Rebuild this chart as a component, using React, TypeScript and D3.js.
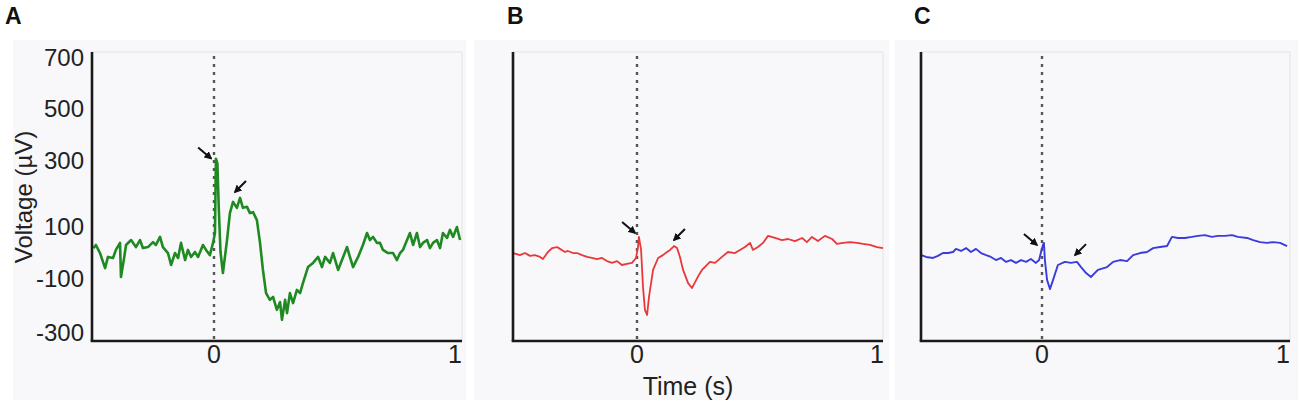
import React from 'react';
import * as d3 from 'd3';

// ---- data (time in s, voltage in µV) ----
const tA = [-0.5,-0.49,-0.473,-0.452,-0.44,-0.419,-0.407,-0.39,-0.386,-0.373,-0.365,-0.344,-0.324,-0.307,-0.295,-0.274,-0.253,-0.241,-0.224,-0.212,-0.191,-0.178,-0.162,-0.149,-0.137,-0.12,-0.108,-0.095,-0.079,-0.066,-0.046,-0.033,-0.017,-0.004,0.004,0.008,0.014,0.02,0.027,0.037,0.054,0.066,0.079,0.095,0.108,0.12,0.137,0.149,0.162,0.178,0.191,0.203,0.216,0.232,0.245,0.261,0.274,0.282,0.295,0.303,0.315,0.328,0.344,0.357,0.369,0.39,0.411,0.432,0.448,0.461,0.481,0.494,0.515,0.531,0.552,0.564,0.577,0.598,0.618,0.635,0.647,0.66,0.676,0.689,0.701,0.722,0.743,0.759,0.772,0.784,0.801,0.813,0.826,0.842,0.855,0.867,0.884,0.896,0.909,0.925,0.938,0.95,0.967,0.979,0.992,1.008,1.021];
const vA = [15,27,-4,-62,-19,-23,8,35,-96,-23,27,46,19,46,15,19,38,27,58,19,-4,-50,-4,-23,35,-31,8,-19,0,-19,27,8,-12,35,73,305,290,150,0,-81,46,139,173,155,185,155,158,139,142,118,35,-69,-156,-181,-170,-218,-189,-255,-181,-230,-156,-193,-144,-156,-119,-58,-42,-19,-58,-19,-42,-4,-69,-31,19,-19,-58,-19,27,73,46,58,35,35,8,-4,-4,-31,-4,8,46,73,27,73,19,35,46,15,35,46,15,73,54,85,58,96,46];

const tB = [-0.515,-0.488,-0.467,-0.446,-0.425,-0.404,-0.392,-0.371,-0.354,-0.333,-0.321,-0.3,-0.288,-0.267,-0.25,-0.229,-0.208,-0.188,-0.167,-0.146,-0.125,-0.104,-0.083,-0.063,-0.042,-0.021,-0.004,0.004,0.008,0.017,0.025,0.033,0.042,0.05,0.067,0.088,0.108,0.125,0.138,0.154,0.167,0.179,0.192,0.213,0.229,0.242,0.258,0.271,0.304,0.325,0.354,0.379,0.408,0.429,0.45,0.471,0.483,0.504,0.525,0.546,0.575,0.604,0.629,0.658,0.688,0.708,0.729,0.754,0.783,0.813,0.833,0.858,0.888,0.917,0.942,0.971,1.0,1.025];
const vB = [-4,-12,-4,-15,-12,-19,-27,0,15,19,12,0,4,-4,-4,-12,-19,-23,-27,-23,-35,-42,-35,-50,-46,-42,-23,19,58,8,-133,-218,-237,-170,-69,-23,-12,0,8,23,15,-19,-69,-119,-137,-115,-88,-69,-38,-42,-19,0,-4,8,19,35,8,19,35,62,54,46,50,42,54,38,58,42,62,50,31,35,38,35,31,27,19,15];

const tC = [-0.5,-0.481,-0.452,-0.432,-0.411,-0.39,-0.369,-0.357,-0.336,-0.315,-0.295,-0.274,-0.253,-0.232,-0.212,-0.191,-0.17,-0.149,-0.129,-0.108,-0.087,-0.066,-0.046,-0.025,-0.012,-0.004,0.004,0.008,0.012,0.021,0.033,0.046,0.066,0.095,0.12,0.145,0.162,0.183,0.203,0.232,0.27,0.295,0.324,0.353,0.378,0.407,0.436,0.461,0.49,0.519,0.539,0.564,0.593,0.622,0.647,0.676,0.705,0.73,0.759,0.788,0.813,0.851,0.876,0.905,0.934,0.959,0.988,1.017];
const vC = [-12,-19,-23,-15,-4,-4,0,12,4,15,0,12,-4,-12,-19,-31,-23,-38,-31,-42,-31,-38,-27,-42,-31,0,27,35,-31,-107,-141,-107,-50,-38,-42,-38,-58,-81,-96,-69,-58,-38,-31,-35,-12,-4,0,15,19,23,58,54,54,58,62,65,58,62,62,65,58,54,46,38,35,38,35,23];

const yTicks = [-300, -100, 100, 300, 500, 700];
const xTicks = [0, 1];
const panelLetters = ['A', 'B', 'C'];
const yLabel = 'Voltage (µV)';
const xLabel = 'Time (s)';

// arrow tips in data coords
const arrowsA = [{ t: -0.012, v: 306, dir: 'se' }, { t: 0.087, v: 203, dir: 'sw' }];
const arrowsB = [{ t: -0.008, v: 73, dir: 'se' }, { t: 0.154, v: 46, dir: 'sw' }];
const arrowsC = [{ t: -0.021, v: 27, dir: 'se' }, { t: 0.137, v: -12, dir: 'sw' }];

// ---- layout ----
const W = 1300, H = 408;
const TOP = 52, BOTTOM = 341;
const yScale = d3.scaleLinear().domain(yTicks).range([332, 278, 226, 160, 108, 57]);

const panels = [
  { letter: panelLetters[0], lx: 5, bg: [13, 40, 466, 400], left: 92, right: 462, x0: 214, x1: 455, t: tA, v: vA, color: '#1f8a22', width: 2.6, arrows: arrowsA, yAxis: true, xTitle: false },
  { letter: panelLetters[1], lx: 507, bg: [474, 40, 889, 400], left: 513, right: 883, x0: 637, x1: 877, t: tB, v: vB, color: '#e8383a', width: 1.8, arrows: arrowsB, yAxis: false, xTitle: true },
  { letter: panelLetters[2], lx: 914, bg: [895, 40, 1298, 400], left: 921, right: 1290, x0: 1042, x1: 1283, t: tC, v: vC, color: '#3b3bdc', width: 1.9, arrows: arrowsC, yAxis: false, xTitle: false },
];

const font = 'Liberation Sans, Arial, Helvetica, sans-serif';

function Panel({ p }: { p: any }) {
  const x = d3.scaleLinear().domain([0, 1]).range([p.x0, p.x1]);
  const pts: [number, number][] = p.t.map((t: number, i: number) => [t, p.v[i]]);
  const line = d3.line<[number, number]>().x(d => x(d[0])).y(d => yScale(d[1]));
  return (
    <g>
      <rect x={p.bg[0]} y={p.bg[1]} width={p.bg[2] - p.bg[0]} height={p.bg[3] - p.bg[1]} fill="#f8f8fa" />
      <text x={p.lx} y={24} fontFamily={font} fontWeight="bold" fontSize={23} fill="#111">{p.letter}</text>
      <line x1={p.left} x2={p.right} y1={TOP} y2={TOP} stroke="#e3e3e6" strokeWidth={1} />
      <line x1={p.right} x2={p.right} y1={TOP} y2={BOTTOM} stroke="#e3e3e6" strokeWidth={1} />
      <line x1={x(0)} x2={x(0)} y1={TOP + 4} y2={BOTTOM} stroke="#555" strokeWidth={2.4} strokeDasharray="3,5" />
      <path d={line(pts) || ''} fill="none" stroke={p.color} strokeWidth={p.width} strokeLinejoin="round" />
      {p.arrows.map((a: any, i: number) => {
        const tx = x(a.t), ty = yScale(a.v);
        const sx = a.dir === 'se' ? tx - 13 : tx + 11;
        const sy = ty - 11;
        return <line key={i} x1={sx} y1={sy} x2={tx} y2={ty} stroke="#111" strokeWidth={2} markerEnd="url(#arr)" />;
      })}
      <line x1={p.left} x2={p.left} y1={TOP} y2={BOTTOM} stroke="#1a1a1a" strokeWidth={2.6} />
      <line x1={p.left - 1.3} x2={p.right} y1={BOTTOM} y2={BOTTOM} stroke="#1a1a1a" strokeWidth={2.6} />
      {xTicks.map(t => (
        <text key={t} x={x(t)} y={363} textAnchor="middle" fontFamily={font} fontSize={25} fill="#222">{t}</text>
      ))}
      {p.yAxis && yTicks.map(v => (
        <text key={v} x={p.left - 8} y={yScale(v)} dy="0.36em" textAnchor="end" fontFamily={font} fontSize={24} fill="#222">{v}</text>
      ))}
      {p.yAxis && (
        <text transform={`translate(32,197) rotate(-90)`} textAnchor="middle" fontFamily={font} fontSize={24} fill="#222">{yLabel}</text>
      )}
      {p.xTitle && (
        <text x={688} y={395} textAnchor="middle" fontFamily={font} fontSize={25} fill="#222">{xLabel}</text>
      )}
    </g>
  );
}

export default function App() {
  return (
    <svg width={W} height={H} style={{ position: 'absolute', left: 0, top: 0, background: '#fff' }}>
      <defs>
        <marker id="arr" viewBox="0 0 10 10" refX="8" refY="5" markerWidth="8" markerHeight="8" markerUnits="userSpaceOnUse" orient="auto">
          <path d="M0,0 L10,5 L0,10 z" fill="#111" />
        </marker>
      </defs>
      {panels.map(p => <Panel key={p.letter} p={p} />)}
    </svg>
  );
}
